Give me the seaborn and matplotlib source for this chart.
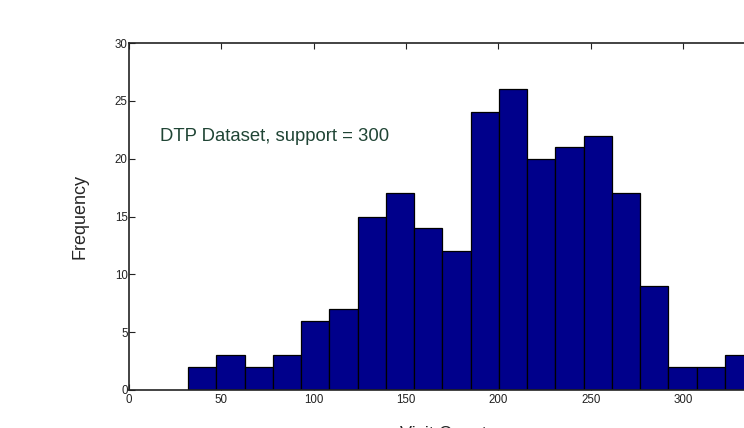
import matplotlib
matplotlib.use("Agg")
import matplotlib.pyplot as plt
import seaborn as sns
import numpy as np
import pandas as pd

# Data
bin_start = 32.0
bin_width = 15.3
counts = [2, 3, 2, 3, 6, 7, 15, 17, 14, 12, 24, 26, 20, 21, 22, 17, 9, 2, 2, 3]
x_ticks = [0, 50, 100, 150, 200, 250, 300]
y_ticks = [0, 5, 10, 15, 20, 25, 30]
annotation = "DTP Dataset, support = 300"
x_label = "Visit Count"
y_label = "Frequency"

edges = (bin_start + bin_width * np.arange(len(counts) + 1)).tolist()
centers = [(a + b) / 2 for a, b in zip(edges[:-1], edges[1:])]
df = pd.DataFrame({"value": centers, "count": counts})

sns.set_style("white")
plt.rcParams["font.family"] = ["Liberation Sans", "DejaVu Sans"]

fig = plt.figure(figsize=(7.44, 4.28), dpi=100)
# axes extend beyond the right edge of the figure (cropped like the reference)
xmax = 340
ax = fig.add_axes([129 / 744, 1 - 390 / 428, (1.8467 * xmax) / 744, 347 / 428])

sns.histplot(data=df, x="value", weights="count", bins=edges, ax=ax,
             color="#00008B", edgecolor="black", linewidth=0.9, alpha=1.0)

ax.set_xticks(x_ticks)
ax.set_yticks(y_ticks)
ax.set_xlim(0, xmax)
ax.set_ylim(0, 30)
ax.tick_params(axis="both", labelsize=8.3, direction="in", length=4.5, width=0.8,
               top=True, right=True, bottom=True, left=True, colors="#222222")
ax.tick_params(axis="x", pad=3)
ax.tick_params(axis="y", pad=1)
for s in ax.spines.values():
    s.set_linewidth(1.2)
    s.set_color("#222222")
ax.set_xlabel(x_label, fontsize=13, labelpad=14)
ax.set_ylabel(y_label, fontsize=13, labelpad=19)

ax.text(16.8, 21.9, annotation, fontsize=13.3, color="#204535", va="center", ha="left")

fig.savefig("out.png", dpi=100)
